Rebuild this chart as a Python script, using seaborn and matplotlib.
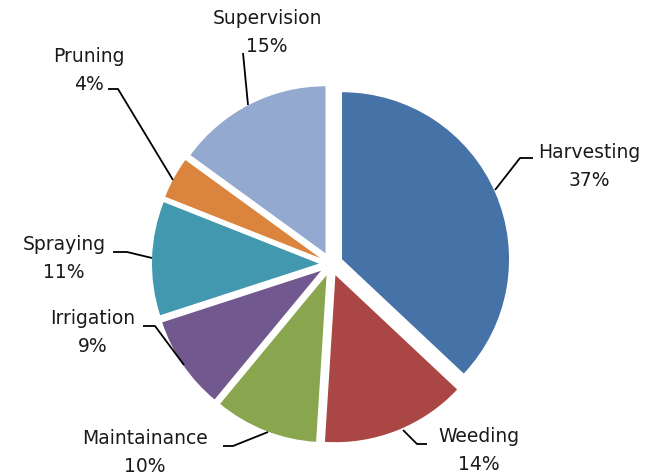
import matplotlib
matplotlib.use("Agg")
import numpy as np
import seaborn as sns
import matplotlib.pyplot as plt

# data
tasks = ["Harvesting", "Weeding", "Maintainance", "Irrigation", "Spraying", "Pruning", "Supervision"]
shares = [37, 14, 10, 9, 11, 4, 15]
colors = ["#4572A7", "#AA4643", "#89A54E", "#71588F", "#4198AF", "#DB843D", "#93A9CF"]

# layout (pixels in the 659x475 picture): label centre, leader points
CX, CY, R = 331, 264, 167
label_layout = {
    "Harvesting":   ((589, 166), [(533, 158), (520, 158), (495, 190)]),
    "Weeding":      ((479, 450), [(427, 444), (417, 444), (403, 430)]),
    "Maintainance": ((145, 453), [(223, 446), (233, 446), (268, 432)]),
    "Irrigation":   ((93, 332),  [(143, 326), (155, 326), (184, 365)]),
    "Spraying":     ((64, 259),  [(113, 252), (127, 252), (152, 258)]),
    "Pruning":      ((89, 70),   [(108, 89), (118, 89), (173, 180)]),
    "Supervision":  ((267, 33),  [(243, 53), (248, 105)]),
}


def px(p):
    return ((p[0] - CX) / R, (CY - p[1]) / R)


sns.set_style("white")
plt.rcParams["font.family"] = ["DejaVu Sans"]

fig = plt.figure(figsize=(6.59, 4.75), dpi=100)
ax = fig.add_axes([0, 0, 1, 1])

ax.pie(shares, colors=sns.color_palette(colors), startangle=90, counterclock=False,
       explode=[0.072] * len(shares), radius=1.0,
       wedgeprops=dict(linewidth=0))

for name, val in zip(tasks, shares):
    (tx, ty), pts = label_layout[name]
    x, y = px((tx, ty))
    ax.text(x, y, f"{name}\n{val}%", ha="center", va="center", fontsize=13.5,
            color="#1a1a1a", linespacing=1.6)
    line = np.array([px(p) for p in pts])
    ax.plot(line[:, 0], line[:, 1], color="black", lw=1.3, solid_capstyle="butt")

ax.set_xlim(-CX / R, (659 - CX) / R)
ax.set_ylim(-(475 - CY) / R, CY / R)
ax.set_aspect("equal", adjustable="box")
ax.axis("off")

fig.savefig("out.png", dpi=100, facecolor="white")
